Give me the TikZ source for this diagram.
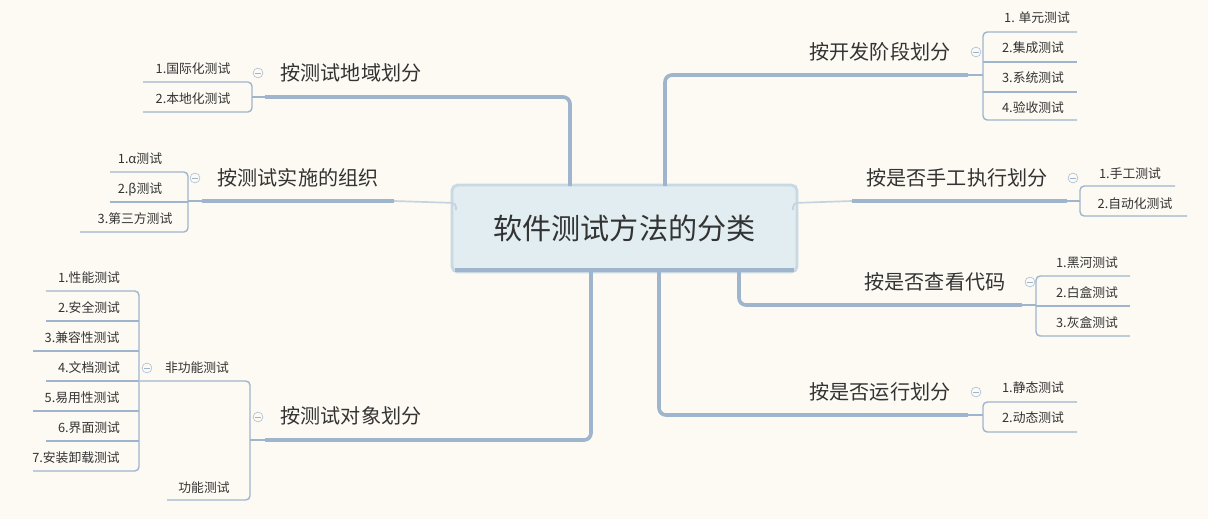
\documentclass[tikz,border=0pt]{standalone}
\usepackage{fontspec}
\setmainfont{Noto Sans CJK SC}
\definecolor{bg}{HTML}{FDFAF3}
\definecolor{br}{HTML}{9FB5CD}
\definecolor{cfill}{HTML}{E1EDF0}
\definecolor{cbord}{HTML}{C9D9E3}
\definecolor{tx}{HTML}{333333}
\begin{document}
\begin{tikzpicture}[x=0.025cm,y=-0.025cm,
  leaf/.style={font=\fontsize{9.1}{10}\selectfont,text=tx,inner sep=0pt},
  topic/.style={font=\fontsize{14.3}{16}\selectfont,text=tx,inner sep=0pt},
  thick br/.style={draw=br,line width=2.6pt,rounded corners=5pt},
  ul/.style={draw=br,line width=2.4pt},
  thin br/.style={draw=br,line width=1pt,rounded corners=3pt},
  col/.style={circle,draw=br!80,line width=0.5pt,minimum size=7pt,inner sep=0pt,
    path picture={\draw[br,line width=0.5pt] ([xshift=-2pt]path picture bounding box.center)--([xshift=2pt]path picture bounding box.center);}}]
\fill[bg] (0,0) rectangle (1208,519);
% center
\node[draw=cbord,fill=cfill,line width=2pt,rounded corners=4pt,minimum width=345*0.025cm,minimum height=87*0.025cm,
  font=\fontsize{20.7}{22}\selectfont,text=tx] (c) at (624.5,228.5) {软件测试方法的分类};
\draw[br,line width=2.6pt] (455,270)--(794,270);
% ---------- right 1
\node[topic] (t1) at (880,52) {按开发阶段划分};
\coordinate (u1a) at (810,75); \coordinate (u1b) at (968,75);
\draw[ul] (u1a)--(u1b);
\draw[thick br] (665,186) |- (u1a);
\node[col] (k1) at (976,52) {};
\draw[thin br] (u1b)--(983,75);
\draw[thin br] (1077,32) -| (983,120) -- (1077,120);
\foreach \y in {62,92} \draw[br,line width=1pt] (983,\y)--(1077,\y);
\node[leaf] (l11) at (1037,18) {1. 单元测试};
\node[leaf] (l12) at (1033,48) {2.集成测试};
\node[leaf] (l13) at (1033,78) {3.系统测试};
\node[leaf] (l14) at (1033,108) {4.验收测试};
% ---------- right 2
\node[topic] (t2) at (957,178) {按是否手工执行划分};
\coordinate (u2a) at (852,201); \coordinate (u2b) at (1067,201);
\draw[ul] (u2a)--(u2b);
\draw[draw=br!60,line width=1.2pt,rounded corners=3pt] (793,210)--(793,203)--(u2a);
\node[col] (k2) at (1073,178) {};
\draw[thin br] (u2b)--(1080,201);
\draw[thin br] (1175,186) -| (1080,216) -- (1187,216);
\node[leaf] (l21) at (1130,174) {1.手工测试};
\node[leaf] (l22) at (1135,204) {2.自动化测试};
% ---------- right 3
\node[topic] (t3) at (935,282) {按是否查看代码};
\coordinate (u3a) at (850,305); \coordinate (u3b) at (1022,305);
\draw[ul] (u3a)--(u3b);
\draw[thick br] (739,272) |- (u3a);
\node[col] (k3) at (1030,282) {};
\draw[thin br] (u3b)--(1036,305);
\draw[thin br] (1130,276) -| (1036,336) -- (1130,336);
\draw[br,line width=1pt] (1036,306)--(1130,306);
\node[leaf] (l31) at (1087,263) {1.黑河测试};
\node[leaf] (l32) at (1087,293) {2.白盒测试};
\node[leaf] (l33) at (1087,323) {3.灰盒测试};
% ---------- right 4
\node[topic] (t4) at (880,392) {按是否运行划分};
\coordinate (u4a) at (810,415); \coordinate (u4b) at (968,415);
\draw[ul] (u4a)--(u4b);
\draw[thick br] (659,272) |- (u4a);
\node[col] (k4) at (976,392) {};
\draw[thin br] (u4b)--(983,415);
\draw[thin br] (1077,402) -| (983,432) -- (1077,432);
\node[leaf] (l41) at (1033,388) {1.静态测试};
\node[leaf] (l42) at (1033,418) {2.动态测试};
% ---------- left 5
\node[topic] (t5) at (351,73) {按测试地域划分};
\coordinate (u5a) at (437,97); \coordinate (u5b) at (265,97);
\draw[ul] (u5a)--(u5b);
\draw[thick br] (570,186) |- (u5a);
\node[col] (k5) at (258,73) {};
\draw[thin br] (u5b)--(252,97);
\draw[thin br] (143,82) -| (252,112) -- (143,112);
\node[leaf] (l51) at (193,69) {1.国际化测试};
\node[leaf] (l52) at (193,99) {2.本地化测试};
% ---------- left 6
\node[topic] (t6) at (298,178) {按测试实施的组织};
\coordinate (u6a) at (394,201); \coordinate (u6b) at (202,201);
\draw[ul] (u6a)--(u6b);
\draw[draw=br!60,line width=1.2pt,rounded corners=3pt] (456,210)--(456,203)--(u6a);
\node[col] (k6) at (195,178) {};
\draw[thin br] (u6b)--(188,201);
\draw[thin br] (110,172) -| (188,232) -- (80,232);
\draw[br,line width=1pt] (188,202)--(110,202);
\node[leaf] (l61) at (140,159) {1.α测试};
\node[leaf] (l62) at (140,189) {2.β测试};
\node[leaf] (l63) at (135,219) {3.第三方测试};
% ---------- left 7
\node[topic] (t7) at (351,416) {按测试对象划分};
\coordinate (u7a) at (437,440); \coordinate (u7b) at (265,440);
\draw[ul] (u7a)--(u7b);
\draw[thick br] (591,272) |- (u7a);
\node[col] (k7) at (258,417) {};
\draw[thin br] (u7b)--(250,440);
\draw[thin br] (140,381) -| (250,500) -- (167,500);
\node[leaf] (n1) at (197,368) {非功能测试};
\node[leaf] (n2) at (204,488) {功能测试};
\node[col] (k8) at (147,368) {};
\draw[thin br] (46,291) -| (139,471) -- (33,471);
\foreach \y/\xx in {321/46,351/33,381/46,411/33,441/46} \draw[br,line width=1pt] (139,\y)--(\xx,\y);
\node[leaf] (m1) at (89,278) {1.性能测试};
\node[leaf] (m2) at (89,308) {2.安全测试};
\node[leaf] (m3) at (82,338) {3.兼容性测试};
\node[leaf] (m4) at (89,368) {4.文档测试};
\node[leaf] (m5) at (82,398) {5.易用性测试};
\node[leaf] (m6) at (89,428) {6.界面测试};
\node[leaf] (m7) at (76,458) {7.安装卸载测试};
\end{tikzpicture}
\end{document}
